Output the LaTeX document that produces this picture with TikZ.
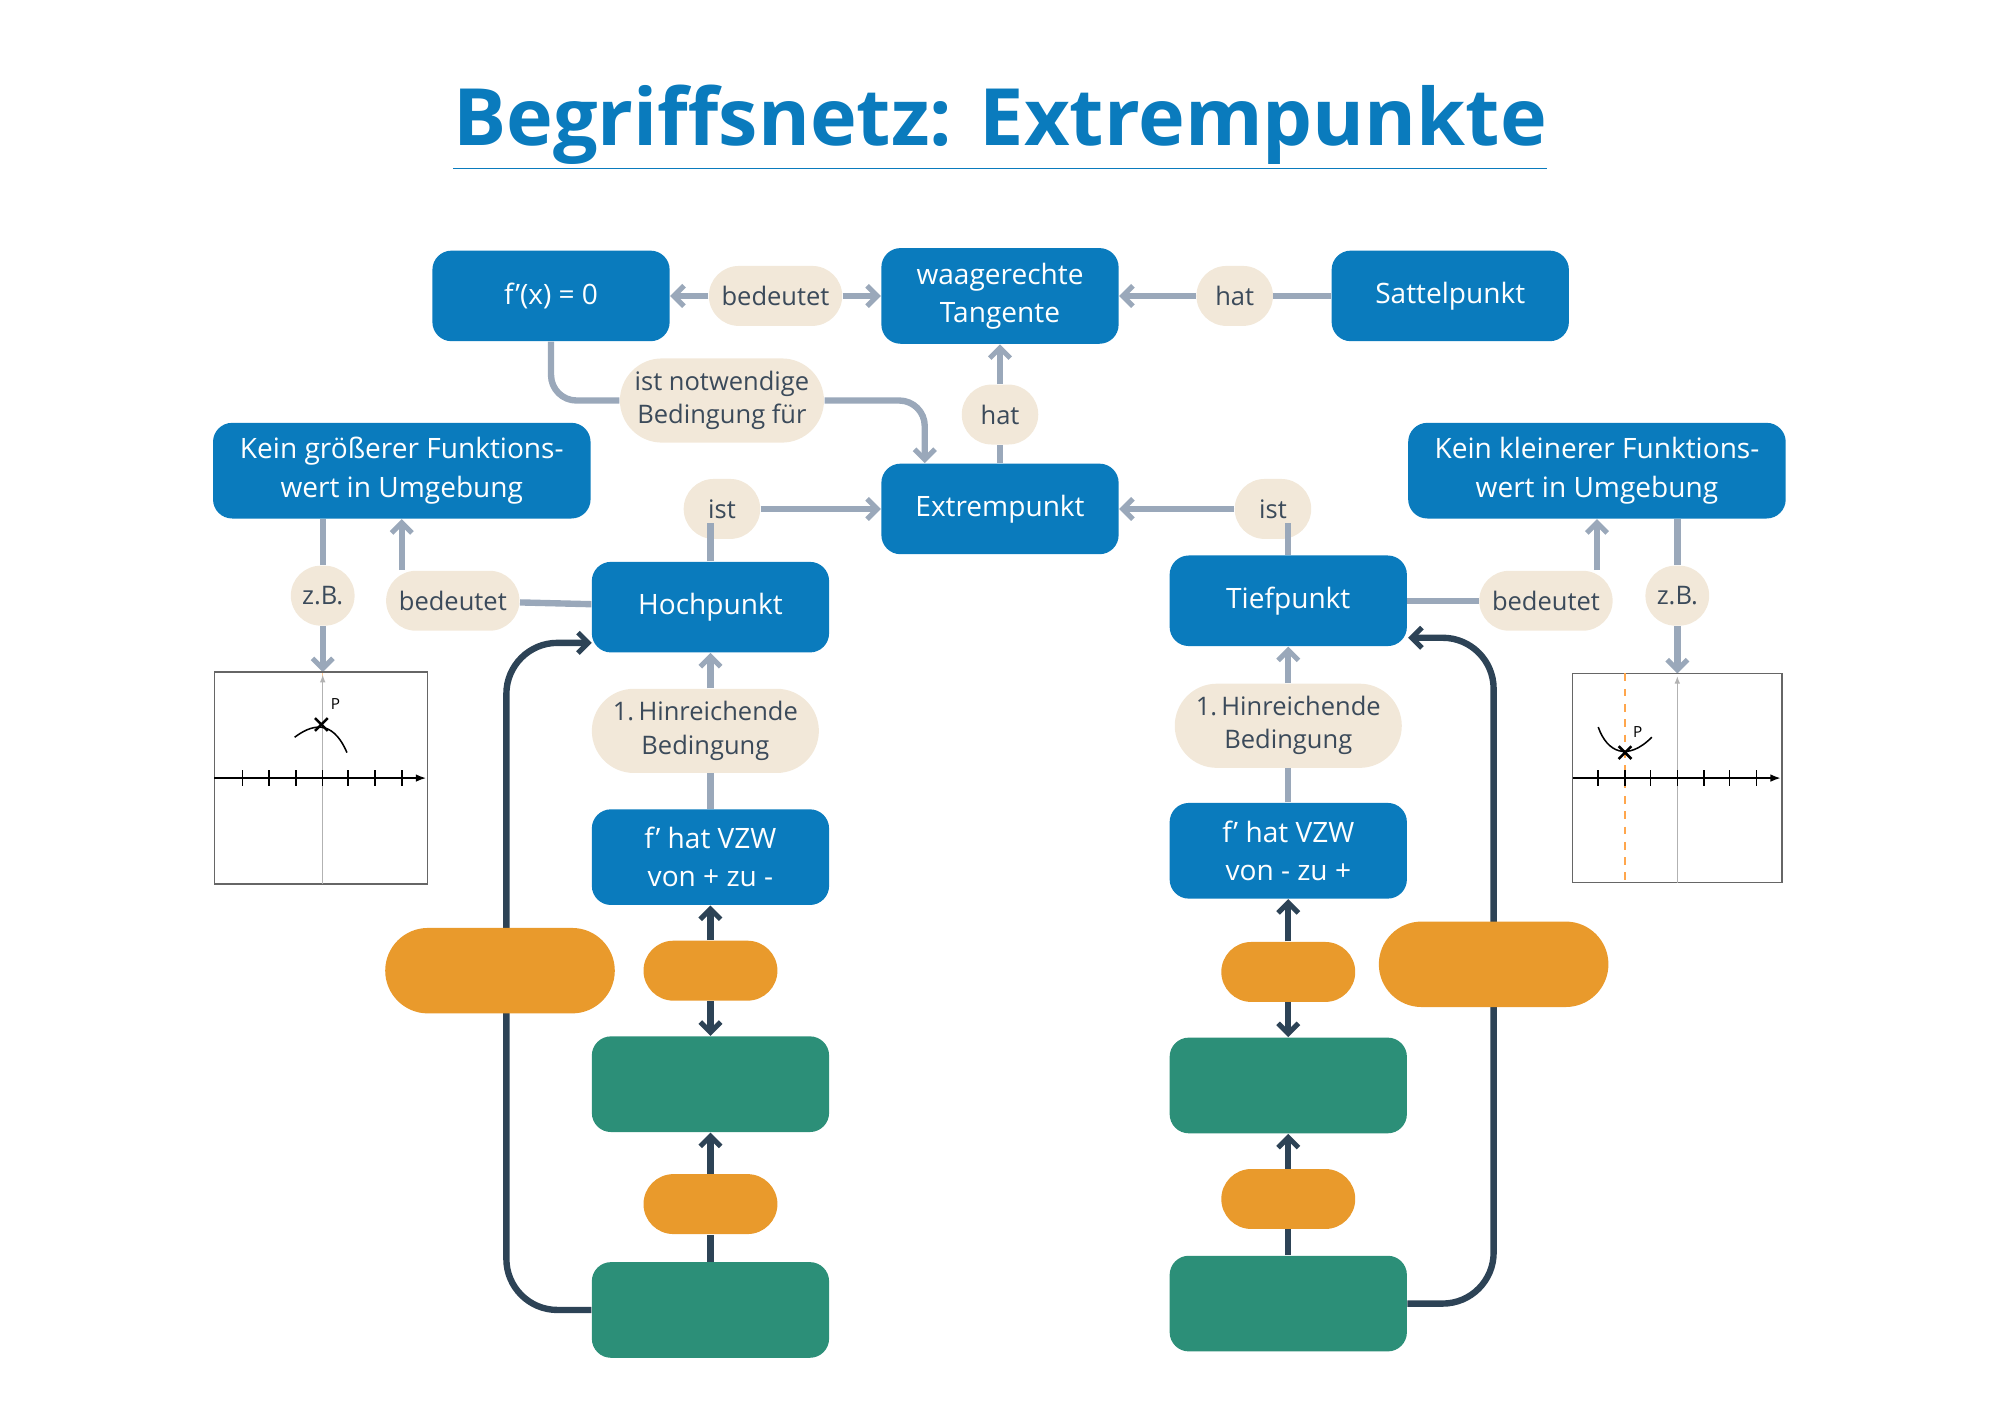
\documentclass[tikz,border=0pt]{standalone}
\usepackage{fontspec}
\setmainfont{Open Sans}
\usetikzlibrary{arrows.meta}
\definecolor{bx}{RGB}{10,123,189}
\definecolor{gr}{RGB}{44,143,120}
\definecolor{og}{RGB}{233,154,44}
\definecolor{bg}{RGB}{242,232,217}
\definecolor{ln}{RGB}{154,168,186}
\definecolor{dk}{RGB}{45,67,86}
\definecolor{tx}{RGB}{59,74,90}
\tikzset{
  box/.style={fill=bx,text=white,rounded corners=7.5pt,minimum width=93pt,minimum height=36pt,align=center,font=\fontsize{11}{15}\selectfont,inner sep=0pt},
  grbox/.style={fill=gr,rounded corners=7.5pt,minimum width=93pt,minimum height=37.5pt},
  opill/.style={fill=og,rounded corners=11.75pt,minimum width=52.5pt,minimum height=23.5pt},
  bigpill/.style={fill=og,rounded corners=16.75pt,minimum width=90pt,minimum height=33.5pt},
  lab/.style={fill=bg,text=tx,rounded corners=11.75pt,minimum height=23.5pt,inner xsep=5pt,inner ysep=0pt,align=center,font=\fontsize{10}{13}\selectfont},
  con/.style={draw=ln,line width=2.5pt},
  arr/.style={con,-{Straight Barb[length=4pt,width=8pt,line width=2pt]}},
  dcon/.style={draw=dk,line width=2.5pt},
  darr/.style={dcon,-{Straight Barb[length=4pt,width=8pt,line width=2pt]}}
}
\begin{document}
\begin{tikzpicture}[x=0.5pt,y=0.5pt,yscale=-1]
\useasboundingbox (0,0) rectangle (1568,1108);
% title
\node[text=bx,font=\fontsize{31}{36}\selectfont\bfseries] (title) at (784,100) {\underline{Begriffsnetz: Extrempunkte}};
% blue boxes
\node[box,minimum height=35.5pt] (fx) at (432,232) {f’(x) = 0};
\node[box,minimum height=37.5pt] (waag) at (784,232) {waagerechte\\Tangente};
\node[box,minimum height=35.5pt] (sattel) at (1137,232) {Sattelpunkt};
\node[box,minimum height=35.5pt] (extrem) at (784,399) {Extrempunkt};
\node[box,minimum width=148pt,minimum height=37.5pt] (kgroesser) at (315,369) {Kein größerer Funktions-\\wert in Umgebung};
\node[box,minimum width=148pt,minimum height=37.5pt] (kkleiner) at (1252,369) {Kein kleinerer Funktions-\\wert in Umgebung};
\node[box,minimum height=35.5pt] (hoch) at (557,476) {Hochpunkt};
\node[box,minimum height=35.5pt] (tief) at (1010,471) {Tiefpunkt};
\node[box,minimum height=37.5pt] (vzwl) at (557,672) {f’ hat VZW\\von + zu -};
\node[box,minimum height=37.5pt] (vzwr) at (1010,667) {f’ hat VZW\\von - zu +};
% green and orange
\node[grbox] (gl1) at (557,850) {};
\node[grbox] (gl2) at (557,1027) {};
\node[grbox] (gr1) at (1010,851) {};
\node[grbox] (gr2) at (1010,1022) {};
\node[opill] (ol1) at (557,761) {};
\node[opill] (ol2) at (557,944) {};
\node[opill] (or1) at (1010,762) {};
\node[opill] (or2) at (1010,940) {};
% labels
\node[lab,minimum width=52pt] (bed1) at (608,232) {bedeutet};
\node[lab,minimum width=30pt] (hat1) at (968,232) {hat};
\node[lab,minimum width=80pt,minimum height=33pt,rounded corners=16.5pt] (notw) at (566,314) {ist notwendige\\Bedingung für};
\node[lab,minimum width=30pt] (hat2) at (784,325) {hat};
\node[lab,minimum width=30pt] (ist1) at (566,399) {ist};
\node[lab,minimum width=30pt] (ist2) at (998,399) {ist};
\node[lab,minimum width=25pt,inner xsep=2pt] (zb1) at (253,467) {z.B.};
\node[lab,minimum width=52pt] (bed2) at (355,471) {bedeutet};
\node[lab,minimum width=52pt] (bed3) at (1212,471) {bedeutet};
\node[lab,minimum width=25pt,inner xsep=2pt] (zb2) at (1315,467) {z.B.};
\node[lab,minimum width=89pt,minimum height=33pt,rounded corners=16.5pt] (hinl) at (553,573) {1.\,Hinreichende\\Bedingung};
\node[lab,minimum width=89pt,minimum height=33pt,rounded corners=16.5pt] (hinr) at (1010,569) {1.\,Hinreichende\\Bedingung};
% gray connectors
\draw[arr] (bed1) -- (fx);
\draw[arr] (bed1) -- (waag);
\draw[con] (sattel) -- (hat1);
\draw[arr] (hat1) -- (waag);
\draw[con,rounded corners=10pt] (fx.south) |- (notw.west);
\draw[arr,rounded corners=10pt] (notw.east) -| (725,363);
\draw[con] (extrem) -- (hat2);
\draw[arr] (hat2) -- (waag);
\draw[con] (hoch.north) -- (557,410);
\draw[arr] (ist1) -- (extrem);
\draw[con] (tief.north) -- (1010,410);
\draw[arr] (ist2) -- (extrem);
\draw[con] (hoch) -- (bed2);
\draw[arr] (315,447) -- (315,407);
\draw[con] (253,407) -- (zb1);
\draw[arr] (zb1) -- (253,527);
\draw[con] (tief) -- (bed3);
\draw[arr] (1252,447) -- (1252,407);
\draw[con] (1315,407) -- (zb2);
\draw[arr] (zb2) -- (1315,528);
\draw[con] (vzwl) -- (hinl.south -| vzwl);
\draw[arr] (hinl.north -| hoch) -- (hoch);
\draw[con] (vzwr) -- (hinr);
\draw[arr] (hinr) -- (tief);
% dark connectors
\draw[darr] (ol1) -- (vzwl);
\draw[darr] (ol1) -- (gl1);
\draw[dcon] (gl2) -- (ol2);
\draw[darr] (ol2) -- (gl1);
\draw[darr] (or1) -- (vzwr);
\draw[darr] (or1) -- (gr1);
\draw[dcon] (gr2) -- (or2);
\draw[darr] (or2) -- (gr1);
\draw[darr,rounded corners=20pt] (gl2.west) -| (397,504) -- (464,504);
\draw[darr,rounded corners=20pt] (gr2.east) -| (1171,500) -- (1104,500);
\node[bigpill] (bl) at (392,761) {};
\node[bigpill] (br) at (1171,756) {};
% graph left
\draw[gray!80!black,line width=0.6pt] (168,527) rectangle (335,693);
\draw[orange!40,dashed,line width=0.5pt] (253,528) -- (253,693);
\draw[gray!60,line width=0.5pt,-{Latex[length=3pt]}] (253,693) -- (253,529);
\draw[line width=0.6pt,-{Latex[length=4pt]}] (168,610) -- (334,610);
\foreach \t in {190,211,232,253,273,294,315} \draw[line width=0.6pt] (\t,604) -- (\t,616);
\draw[line width=0.6pt] (231,578) .. controls (243,569) and (260,562) .. (272,590);
\draw[line width=1pt] (247,563) -- (257,573) (247,573) -- (257,563);
\node[font=\fontsize{6}{7}\selectfont] (pl) at (263,552) {P};
% graph right
\draw[gray!80!black,line width=0.6pt] (1233,528) rectangle (1397,692);
\draw[orange!70,dashed,line width=0.6pt] (1274,528) -- (1274,692);
\draw[gray!60,line width=0.5pt,-{Latex[length=3pt]}] (1315,692) -- (1315,530);
\draw[line width=0.6pt,-{Latex[length=4pt]}] (1233,610) -- (1396,610);
\foreach \t in {1253,1274,1294,1315,1336,1356,1377} \draw[line width=0.6pt] (\t,604) -- (\t,616);
\draw[line width=0.6pt] (1253,570) .. controls (1260,590) and (1276,597) .. (1295,578);
\draw[line width=1pt] (1269,585) -- (1279,595) (1269,595) -- (1279,585);
\node[font=\fontsize{6}{7}\selectfont] (pr) at (1284,574) {P};
\end{tikzpicture}
\end{document}
